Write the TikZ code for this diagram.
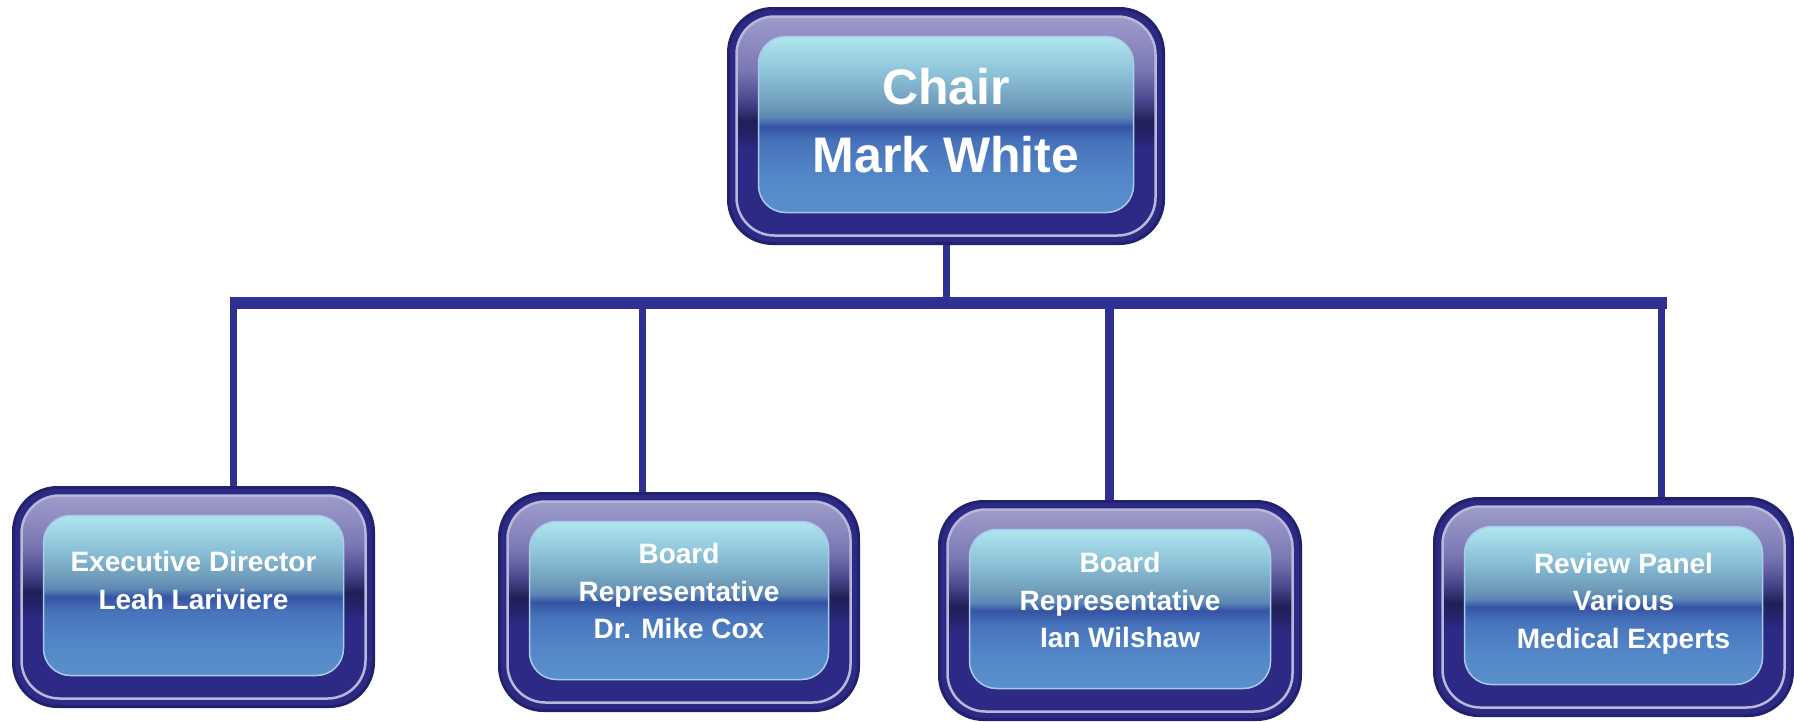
\documentclass[tikz,border=0pt]{standalone}
\usepackage{fontspec}
\setmainfont{Liberation Sans}
\definecolor{navyfill}{HTML}{2C2A84}
\definecolor{navyline}{HTML}{23216B}
\definecolor{conncol}{HTML}{2E3192}
\definecolor{ringline}{HTML}{B9B8DA}
\definecolor{panelline}{HTML}{A9CBEA}
\definecolor{rA}{HTML}{25236A}
\definecolor{rB}{HTML}{211F58}
\definecolor{rC}{HTML}{4E4C92}
\definecolor{rD}{HTML}{7A78B2}
\definecolor{rE}{HTML}{8E8CC0}
\definecolor{rF}{HTML}{A3A1CD}
\definecolor{pA}{HTML}{5A8FCC}
\definecolor{pB}{HTML}{5487C8}
\definecolor{pC}{HTML}{4773BB}
\definecolor{pD}{HTML}{3553A4}
\definecolor{pE}{HTML}{5A86B4}
\definecolor{pF}{HTML}{6C99B8}
\definecolor{pG}{HTML}{8BBFD6}
\definecolor{pH}{HTML}{B0E6F0}
\pgfdeclareverticalshading{ringshade}{100bp}{%
  color(0bp)=(navyfill); color(25bp)=(navyfill); color(45bp)=(navyfill);
  color(48bp)=(rA); color(51bp)=(rB); color(56bp)=(rC);
  color(62bp)=(rD); color(68bp)=(rE); color(75bp)=(rF); color(100bp)=(rF)}
\pgfdeclareverticalshading{panelshade}{100bp}{%
  color(0bp)=(pA); color(25bp)=(pA); color(35bp)=(pB);
  color(45bp)=(pC); color(49.5bp)=(pD); color(52bp)=(pE);
  color(55bp)=(pF); color(64bp)=(pG); color(75bp)=(pH); color(100bp)=(pH)}
\tikzset{
  gbox/.style={rectangle, rounded corners=44pt, fill=navyfill, draw=navyline, line width=3pt, inner sep=0pt,
    path picture={
      \path[shading=ringshade, draw=ringline, line width=2.5pt, rounded corners=38pt]
        ([shift={(8pt,-8pt)}]path picture bounding box.north west) rectangle
        ([shift={(-8pt,8pt)}]path picture bounding box.south east);
      \path[shading=panelshade, draw=panelline, line width=1.5pt, rounded corners=27pt]
        ([shift={(30pt,-28pt)}]path picture bounding box.north west) rectangle
        ([shift={(-30pt,31pt)}]path picture bounding box.south east);
    }},
  toptxt/.style={anchor=center, text=white, align=center, inner sep=0pt, font=\bfseries\fontsize{50}{68}\selectfont},
  subtxt/.style={anchor=center, text=white, align=center, inner sep=0pt, font=\bfseries\fontsize{28}{37.5}\selectfont},
  conn/.style={draw=conncol, line cap=butt, line width=7pt},
}
\begin{document}
\begin{tikzpicture}[x=1pt, y=-1pt]
\useasboundingbox (0,0) rectangle (1794,721);
\node[gbox, minimum width=435pt, minimum height=235pt,
  label={[toptxt, yshift=5.5pt]center:{Chair\\Mark White}}] (chair) at (946,126) {};
\node[gbox, minimum width=360pt, minimum height=219pt,
  label={[subtxt, yshift=16.5pt]center:{Executive Director\\Leah Lariviere}}] (e1) at (193.5,597) {};
\node[gbox, minimum width=359pt, minimum height=217pt,
  label={[subtxt, yshift=11pt]center:{Board\\Representative\\Dr. Mike Cox}}] (e2) at (679,602) {};
\node[gbox, minimum width=361pt, minimum height=218pt,
  label={[subtxt, yshift=10.5pt]center:{Board\\Representative\\Ian Wilshaw}}] (e3) at (1120,610.5) {};
\node[gbox, minimum width=358pt, minimum height=217pt,
  label={[subtxt, yshift=3.5pt, xshift=10pt]center:{Review Panel\\Various\\Medical Experts}}] (e4) at (1613.5,607) {};
\coordinate (barL) at (230,303);
\coordinate (barR) at (1667,303);
\coordinate (d1) at (233.5,303);
\coordinate (d2) at (642,303);
\coordinate (d3) at (1109,303);
\coordinate (d4) at (1661.5,303);
\draw[conn, line width=12pt] (barL) -- (barR);
\draw[conn] (chair.south) -- (chair.south |- barL);
\draw[conn] (d1) -- (d1 |- e1.north);
\draw[conn] (d2) -- (d2 |- e2.north);
\draw[conn, line width=9pt] (d3) -- (d3 |- e3.north);
\draw[conn] (d4) -- (d4 |- e4.north);
\end{tikzpicture}
\end{document}
